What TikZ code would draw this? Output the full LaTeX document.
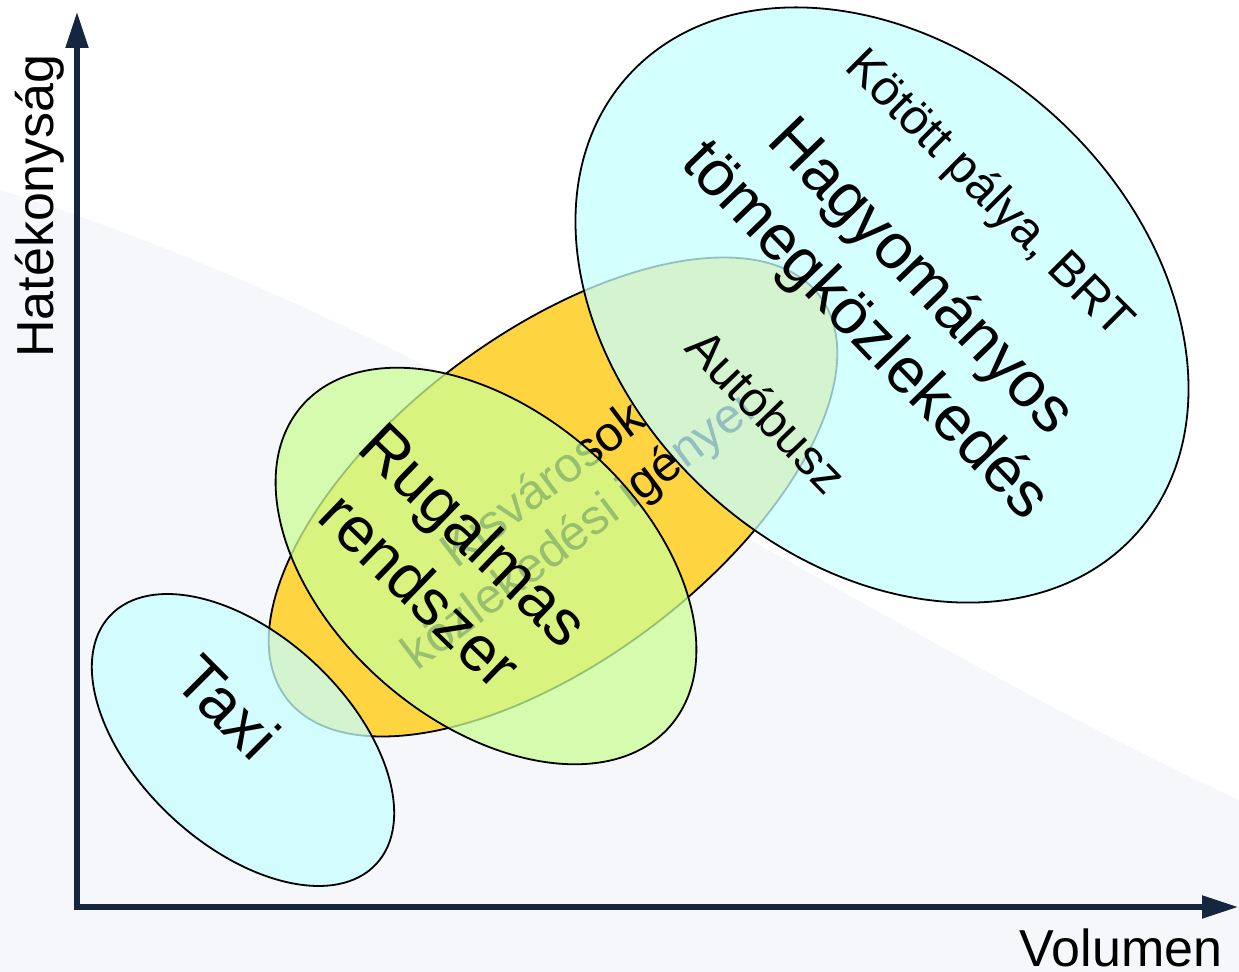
\documentclass[tikz,border=0pt]{standalone}
\usepackage{fontspec}
\setmainfont{Liberation Sans}
\usetikzlibrary{positioning, arrows.meta, shapes.geometric}

\definecolor{axisblue}{RGB}{20,38,64}
\definecolor{orangefill}{RGB}{255,212,65}
\definecolor{cyanfill}{RGB}{198,255,255}
\definecolor{greenfill}{RGB}{203,255,149}
\definecolor{bgtint}{RGB}{246,247,250}

\begin{document}
\begin{tikzpicture}[x=0.5pt, y=-0.5pt,
        blob/.style={ellipse, draw=black, line width=0.9pt, inner sep=0pt},
        glass/.style={blob, fill opacity=0.75},
        axisline/.style={line width=2.6pt, draw=axisblue, line join=miter,
            {Triangle[length=18pt, width=11pt]}-{Triangle[length=18pt, width=11pt]}},
        axislabel/.style={font=\fontsize{26}{30}\selectfont},
        bigtxt/.style={font=\fontsize{32}{38.5}\selectfont, align=center},
        midtxt/.style={font=\fontsize{24.5}{29}\selectfont, align=center}]
    \useasboundingbox (0,0) rectangle (1239,972);
    % background
    \fill[bgtint] (0,190) .. controls (450,330) and (850,620) .. (1239,800) -- (1239,972) -- (0,972) -- cycle;

    % axes
    \coordinate (origin) at (77,907);
    \coordinate (ytip) at (77,12);
    \coordinate (xtip) at (1238,907);
    \draw[axisline] (ytip) -- (origin) -- (xtip);
    \node[axislabel, rotate=90] (ylab) at (40,206) {Hatékonyság};
    \node[axislabel] (xlab) at (1121,948) {Volumen};

    % kisvarosok
    \node[blob, fill=orangefill, minimum width=334pt, minimum height=163pt, rotate=37] (kis) at (553,497) {};
    \node[midtxt, rotate=37] (kistxt) at (562,510) {Kisvárosok\\közlekedési igényei};

    % overlays
    \node[glass, fill=cyanfill, minimum width=182pt, minimum height=105pt, rotate=-43] (taxi) at (243,740) {};
    \node[glass, fill=greenfill, minimum width=244pt, minimum height=155pt, rotate=-41] (rugal) at (486,566) {};
    \node[glass, fill=cyanfill, minimum width=342pt, minimum height=256pt, rotate=-42] (hagyo) at (882,305) {};

    % texts
    \node[bigtxt, rotate=-45] (taxitxt) at (228,707) {Taxi};
    \node[bigtxt, rotate=-44] (rugaltxt) at (448,562) {Rugalmas\\rendszer};
    \node[bigtxt, rotate=-46] (hagyotxt) at (892,305) {Hagyományos\\tömegközlekedés};
    \node[midtxt, rotate=-45] (kotott) at (988,195) {Kötött pálya, BRT};
    \node[midtxt, rotate=-46] (busz) at (767,411) {Autóbusz};
\end{tikzpicture}
\end{document}
